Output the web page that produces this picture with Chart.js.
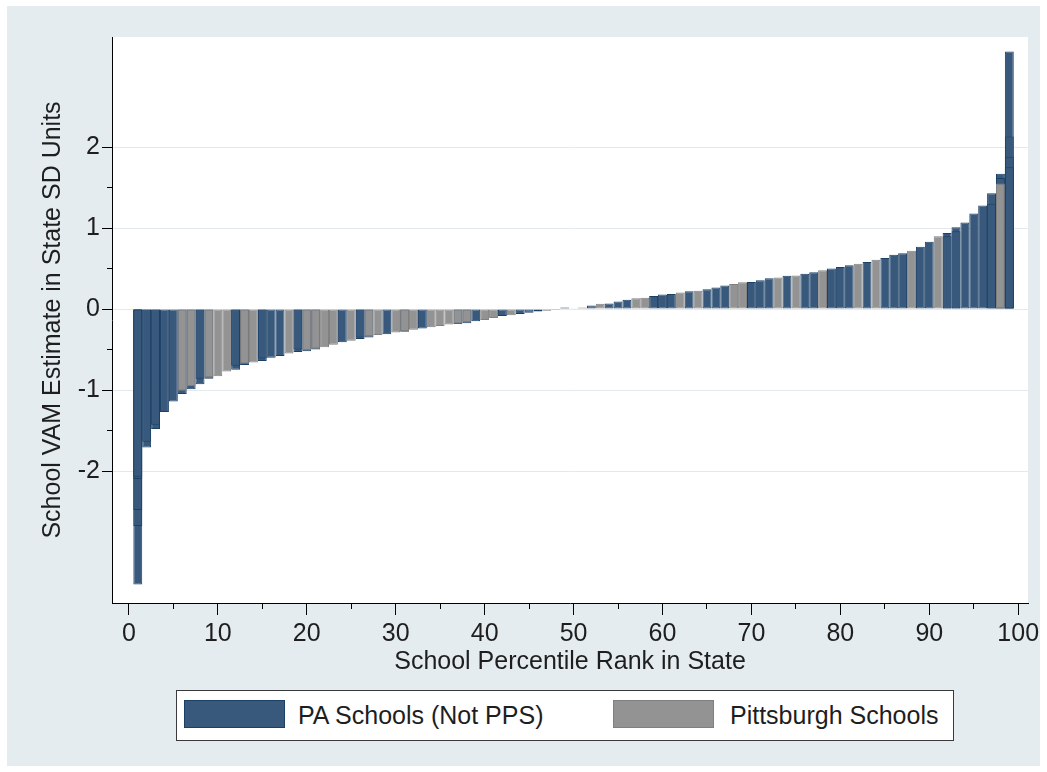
<!DOCTYPE html>
<html>
<head>
<meta charset="utf-8">
<script src="https://cdn.jsdelivr.net/npm/chart.js@4/dist/chart.umd.min.js"></script>
<style>
  html, body { margin: 0; padding: 0; background: #ffffff; }
  #wrap { position: relative; width: 1047px; height: 772px; }
  #c { position: absolute; left: 0; top: 0; }
  #legend {
    position: absolute; left: 176px; top: 690px; width: 776px; height: 49px;
    border: 1px solid #3a3a3a; background: #ffffff;
    font-family: "Liberation Sans", Arial, sans-serif; font-size: 25px; color: #1e1e1e;
  }
  #legend .sw { position: absolute; top: 9px; width: 99px; height: 26px; border: 1px solid; }
  #legend .lt { position: absolute; top: 0; line-height: 49px; white-space: nowrap; }
</style>
</head>
<body>
<div id="wrap">
  <canvas id="c" width="1047" height="772"></canvas>
  <div id="legend"></div>
</div>
<script>
// School percentile ranks (x positions of the bars)
const ranks = [
   1,  2,  3,  4,  5,  6,  7,  8,  9, 10, 11, 12, 13, 14, 15, 16, 17, 18, 19, 20,
  21, 22, 23, 24, 25, 26, 27, 28, 29, 30, 31, 32, 33, 34, 35, 36, 37, 38, 39, 40,
  41, 42, 43, 44, 45, 46, 47, 48, 49, 50, 51, 52, 53, 54, 55, 56, 57, 58, 59, 60,
  61, 62, 63, 64, 65, 66, 67, 68, 69, 70, 71, 72, 73, 74, 75, 76, 77, 78, 79, 80,
  81, 82, 83, 84, 85, 86, 87, 88, 89, 90, 91, 92, 93, 94, 95, 96, 97, 98, 99
];

// VAM estimates (state SD units), PA schools outside Pittsburgh, one per rank
const paSchools = [
  -3.40, -1.71, -1.48, -1.27, -1.14, -1.05, -0.99, -0.93, -0.86,  null,
   null, -0.75, -0.69,  null, -0.64, -0.60, -0.58,  null, -0.53, -0.52,
  -0.50,  null,  null, -0.41,  null, -0.37, -0.35,  null, -0.31,  null,
  -0.28,  null, -0.24,  null,  null,  null, -0.185, -0.175, -0.15, null,
   null, -0.085, null, -0.06, -0.045, -0.03, null,  null,  0.02,  null,
   null,  0.045, null,  0.07,  0.095, 0.115, null,  null,  0.16,  0.18,
   0.185, null,  0.22,  null,  0.245, 0.265, 0.29,  null,  null,  0.335,
   0.355, 0.38,  null,  0.41,  null,  0.435, 0.455, null,  0.50,  0.52,
   0.54,  null,  0.58,  null,  0.63,  0.67,  0.69,  null,  0.77,  0.83,
   null,  0.94,  1.01,  1.07,  1.18,  1.28,  1.43,  1.67,  3.18
];

// Additional PA schools sharing a rank (rank, estimate), drawn over the main bars
const paSharedRankB = [[1, -2.68], [2, -1.64], [3, -1.43], [8, -0.86], [12, -0.70], [15, -0.61],
                       [19, -0.50], [26, -0.35], [92, 0.90], [93, 0.96], [97, 1.30], [98, 1.62], [99, 2.13]];
const paSharedRankC = [[1, -2.48], [99, 1.88]];
const paSharedRankD = [[1, -2.10], [99, 1.75]];
const paSharedRankE = [[1, -2.07]];

// VAM estimates for Pittsburgh Public Schools, one per rank
const pghSchools = [
   null,  null,  null,  null,  null, -1.01, -0.95,  null, -0.84, -0.83,
  -0.77,  null, -0.675, -0.66, null,  null,  null, -0.55,  null, -0.51,
  -0.49, -0.47, -0.44,  null, -0.39,  null, -0.34, -0.32,  null, -0.29,
  -0.27, -0.255, null, -0.225, -0.21, -0.19, -0.18, -0.165, null, -0.135,
  -0.11,  null, -0.075, null,  null,  null, -0.02, -0.01,  null,  0.01,
   0.02,  null,  0.065, null,  null,  null,  0.135, 0.14,  null,  null,
   null,  0.205, null,  0.225, null,  null,  null,  0.31,  0.33,  null,
   null,  null,  0.39,  null,  0.415, null,  null,  0.48,  null,  null,
   null,  0.56,  null,  0.61,  null,  null,  null,  0.72,  null,  null,
   0.90,  null,  null,  null,  null,  null,  null,  1.55,  null
];

// Axis ticks
const xMajorTicks = [0, 10, 20, 30, 40, 50, 60, 70, 80, 90, 100];
const xMinorTicks = [5, 15, 25, 35, 45, 55, 65, 75, 85, 95];
const yMajorTicks = [-2, -1, 0, 1, 2];
const yMinorTicks = [-1.5, -0.5, 0.5, 1.5];

const LABEL_PA = 'PA Schools (Not PPS)';
const LABEL_PGH = 'Pittsburgh Schools';
const xTitle = 'School Percentile Rank in State';
const yTitle = 'School VAM Estimate in State SD Units';

const FONT_FAMILY = '"Liberation Sans", Arial, sans-serif';
const TEXT_COLOR = '#1e1e1e';
const REGION_BG = '#e4ecef';
const GRID_COLOR = '#e2eaee';
const BLUE_FILL = 'rgb(56,89,124)';
const BLUE_LINE = 'rgb(27,64,102)';
const GRAY_FILL = 'rgb(147,147,147)';
const GRAY_LINE = 'rgb(128,128,128)';

function seriesPoints(values) {
  return ranks.map((r, i) => ({ x: r, y: values[i] })).filter(p => p.y !== null);
}
function pairPoints(pairs) {
  return pairs.map(([x, y]) => ({ x, y }));
}

const barCommon = {
  barPercentage: 1,
  categoryPercentage: 1,
  grouped: false,
  borderWidth: 1,
  borderSkipped: false,
  inflateAmount: 0
};

function blueSet(data, order, inLegend) {
  return Object.assign({ label: LABEL_PA, data, order, inLegend,
    backgroundColor: BLUE_FILL, borderColor: BLUE_LINE }, barCommon);
}

const datasets = [
  blueSet(seriesPoints(paSchools), 10, true),
  blueSet(pairPoints(paSharedRankB), 4, false),
  blueSet(pairPoints(paSharedRankC), 3, false),
  blueSet(pairPoints(paSharedRankD), 2, false),
  blueSet(pairPoints(paSharedRankE), 1, false),
  Object.assign({ label: LABEL_PGH, data: seriesPoints(pghSchools), order: 0, inLegend: true,
    backgroundColor: GRAY_FILL, borderColor: GRAY_LINE }, barCommon)
];

const tickFont = { family: FONT_FAMILY, size: 25 };
const X_MIN = -1.9, X_MAX = 101.1;
const Y_MIN = -3.63, Y_MAX = 3.36;

// Graph region background, white plot region
const backdrop = {
  id: 'backdrop',
  beforeDraw(chart) {
    const { ctx, chartArea: a, width, height } = chart;
    ctx.save();
    ctx.fillStyle = '#ffffff';
    ctx.fillRect(0, 0, width, height);
    ctx.fillStyle = REGION_BG;
    ctx.fillRect(7, 6, width - 14, height - 12);
    ctx.fillStyle = '#ffffff';
    ctx.fillRect(a.left, a.top, a.right - a.left, a.bottom - a.top);
    ctx.restore();
  }
};

const chart = new Chart(document.getElementById('c'), {
  type: 'bar',
  data: { datasets },
  options: {
    responsive: false,
    animation: false,
    devicePixelRatio: 1,
    events: [],
    layout: { padding: { left: 0, top: 37, right: 19, bottom: 89 } },
    plugins: { legend: { display: false }, tooltip: { enabled: false } },
    scales: {
      x: {
        type: 'linear', position: 'bottom', weight: 1, offset: false,
        min: X_MIN, max: X_MAX,
        afterBuildTicks: s => { s.ticks = xMajorTicks.map(v => ({ value: v })); },
        afterFit: s => { s.height = 80; },
        ticks: { font: tickFont, color: TEXT_COLOR, padding: 4, maxRotation: 0, autoSkip: false,
                 callback: v => String(v) },
        grid: { offset: false, drawOnChartArea: false, tickLength: 12, tickColor: '#000', tickWidth: 1 },
        border: { color: '#000', width: 1 },
        title: { display: true, text: xTitle, font: tickFont, color: TEXT_COLOR,
                 padding: { top: 0, bottom: 6 } }
      },
      xMinor: {
        type: 'linear', position: 'bottom', weight: 0, offset: false,
        min: X_MIN, max: X_MAX,
        afterBuildTicks: s => { s.ticks = xMinorTicks.map(v => ({ value: v })); },
        afterFit: s => { s.height = 0; },
        ticks: { display: false },
        grid: { offset: false, drawOnChartArea: false, tickLength: 6, tickColor: '#000', tickWidth: 1 },
        border: { display: false }
      },
      y: {
        type: 'linear', position: 'left', weight: 1,
        min: Y_MIN, max: Y_MAX,
        afterBuildTicks: s => { s.ticks = yMajorTicks.map(v => ({ value: v })); },
        afterFit: s => { s.width = 112; },
        ticks: { font: tickFont, color: TEXT_COLOR, padding: 2, callback: v => String(v) },
        grid: { color: GRID_COLOR, lineWidth: 1, tickLength: 10, tickColor: '#000', tickWidth: 1 },
        border: { color: '#000', width: 1 },
        title: { display: true, text: yTitle, font: tickFont, color: TEXT_COLOR,
                 padding: { top: 38, bottom: 0 } }
      },
      yMinor: {
        type: 'linear', position: 'left', weight: 0,
        min: Y_MIN, max: Y_MAX,
        afterBuildTicks: s => { s.ticks = yMinorTicks.map(v => ({ value: v })); },
        afterFit: s => { s.width = 0; },
        ticks: { display: false },
        grid: { drawOnChartArea: false, tickLength: 5, tickColor: '#000', tickWidth: 1 },
        border: { display: false }
      }
    }
  },
  plugins: [backdrop]
});

// Legend built from the chart's own datasets
const legendEl = document.getElementById('legend');
const legendSlots = [{ sw: 7, text: 121 }, { sw: 436, text: 553 }];
chart.data.datasets.filter(d => d.inLegend).forEach((d, i) => {
  const slot = legendSlots[i];
  const sw = document.createElement('div');
  sw.className = 'sw';
  sw.style.left = slot.sw + 'px';
  sw.style.background = d.backgroundColor;
  sw.style.borderColor = d.borderColor;
  const tx = document.createElement('div');
  tx.className = 'lt';
  tx.style.left = slot.text + 'px';
  tx.textContent = d.label;
  legendEl.appendChild(sw);
  legendEl.appendChild(tx);
});
</script>
</body>
</html>
